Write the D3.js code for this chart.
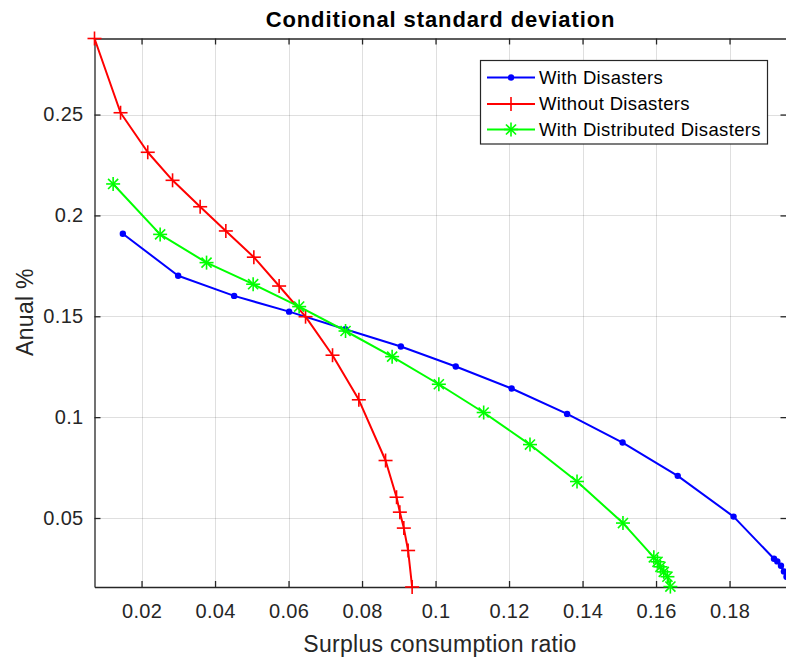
<!DOCTYPE html>
<html>
<head>
<meta charset="utf-8">
<script src="https://cdn.jsdelivr.net/npm/d3@7"></script>
<style>
  html, body { margin: 0; padding: 0; background: #fff; }
  svg { display: block; font-family: "Liberation Sans", Arial, Helvetica, sans-serif; }
</style>
</head>
<body>
<svg id="chart" width="786" height="662"></svg>
<script>
// Surplus consumption ratio (x) vs conditional standard deviation (y)
const withDisastersX = [0.01491, 0.02996, 0.04520, 0.06016, 0.07546, 0.09056, 0.1055, 0.1207, 0.1358, 0.1509, 0.1659, 0.1811, 0.1921, 0.1930, 0.1940, 0.1948, 0.1955];
const withDisastersY = [0.1909, 0.1701, 0.1601, 0.1523, 0.1436, 0.1350, 0.1251, 0.1142, 0.1016, 0.0874, 0.0709, 0.0507, 0.0298, 0.0285, 0.0263, 0.0235, 0.0209];

const withoutDisastersX = [0.0072, 0.01429, 0.02169, 0.02844, 0.03595, 0.04294, 0.05056, 0.05744, 0.06463, 0.07197, 0.07913, 0.08640, 0.08939, 0.09029, 0.09137, 0.09254, 0.09363];
const withoutDisastersY = [0.2877, 0.2509, 0.2313, 0.2174, 0.2043, 0.1923, 0.1793, 0.1650, 0.1498, 0.1307, 0.1086, 0.0785, 0.0603, 0.0529, 0.0450, 0.0339, 0.0158];

const distributedX = [0.01227, 0.02506, 0.03769, 0.05037, 0.06289, 0.07551, 0.08819, 0.1009, 0.1131, 0.1257, 0.1385, 0.1510, 0.1594, 0.1604, 0.1612, 0.1621, 0.1631, 0.1639];
const distributedY = [0.2156, 0.1906, 0.1766, 0.1659, 0.1548, 0.1427, 0.1300, 0.1163, 0.1023, 0.0864, 0.0681, 0.0475, 0.0305, 0.0283, 0.0258, 0.0233, 0.0209, 0.0160];

const seriesNames = ["With Disasters", "Without Disasters", "With Distributed Disasters"];
const xTicks = [0.02, 0.04, 0.06, 0.08, 0.1, 0.12, 0.14, 0.16, 0.18];
const yTicks = [0.05, 0.1, 0.15, 0.2, 0.25];

const titleText = "Conditional standard deviation";
const xLabelText = "Surplus consumption ratio";
const yLabelText = "Anual %";

const series = [
  { name: seriesNames[0], xs: withDisastersX, ys: withDisastersY, color: "#0000ff", marker: "dot" },
  { name: seriesNames[1], xs: withoutDisastersX, ys: withoutDisastersY, color: "#ff0000", marker: "plus" },
  { name: seriesNames[2], xs: distributedX, ys: distributedY, color: "#00ff00", marker: "star" }
].map(s => ({ ...s, pts: s.xs.map((x, i) => [x, s.ys[i]]) }));

const svg = d3.select("#chart");
const L = 94.5, R = 786.5, T = 38.5, B = 587;
const axisColor = "#262626";

// tight limits, taken from the data itself
const allX = series.flatMap(s => s.xs), allY = series.flatMap(s => s.ys);
const x = d3.scaleLinear().domain(d3.extent(allX)).range([L, R]);
const y = d3.scaleLinear().domain(d3.extent(allY)).range([B, T]);

// background
svg.append("rect").attr("x", L).attr("y", T).attr("width", R - L).attr("height", B - T).attr("fill", "#fff");

// grid
const grid = svg.append("g").attr("stroke", axisColor).attr("stroke-opacity", 0.15).attr("stroke-width", 1);
grid.selectAll("line.gx").data(xTicks).join("line")
  .attr("x1", d => Math.round(x(d)) + 0.5).attr("x2", d => Math.round(x(d)) + 0.5)
  .attr("y1", T).attr("y2", B);
grid.selectAll("line.gy").data(yTicks).join("line")
  .attr("y1", d => Math.round(y(d)) + 0.5).attr("y2", d => Math.round(y(d)) + 0.5)
  .attr("x1", L).attr("x2", R);

// axes
const fmt = d => String(+d.toFixed(4));
const styleAxis = g => {
  g.select(".domain").attr("stroke", axisColor).attr("stroke-width", 1.3);
  g.selectAll(".tick line").attr("stroke", axisColor).attr("stroke-width", 1.3);
  g.selectAll(".tick text").attr("fill", axisColor).attr("font-size", 20).attr("letter-spacing", 0.3)
    .attr("font-family", "'Liberation Sans', Arial, sans-serif");
};
svg.append("g").attr("transform", `translate(0,${B})`)
  .call(d3.axisBottom(x).tickValues(xTicks).tickFormat(fmt).tickSizeInner(-6).tickSizeOuter(0).tickPadding(17))
  .call(styleAxis);
svg.append("g").attr("transform", `translate(0,${T})`)
  .call(d3.axisTop(x).tickValues(xTicks).tickFormat("").tickSizeInner(-6).tickSizeOuter(0))
  .call(styleAxis);
svg.append("g").attr("transform", `translate(${L},0)`)
  .call(d3.axisLeft(y).tickValues(yTicks).tickFormat(fmt).tickSizeInner(-6).tickSizeOuter(0).tickPadding(11))
  .call(styleAxis);
svg.append("g").attr("transform", `translate(${R},0)`)
  .call(d3.axisRight(y).tickValues(yTicks).tickFormat("").tickSizeInner(-6).tickSizeOuter(0))
  .call(styleAxis);

// markers
function drawMarker(g, kind, color, size) {
  const h = size / 2;
  if (kind === "dot") {
    g.append("circle").attr("r", 3.2).attr("fill", color);
  } else {
    g.append("line").attr("x1", -h).attr("x2", h).attr("y1", 0).attr("y2", 0);
    g.append("line").attr("x1", 0).attr("x2", 0).attr("y1", -h).attr("y2", h);
    if (kind === "star") {
      const d = h * 0.72;
      g.append("line").attr("x1", -d).attr("x2", d).attr("y1", -d).attr("y2", d);
      g.append("line").attr("x1", -d).attr("x2", d).attr("y1", d).attr("y2", -d);
    }
    g.selectAll("line").attr("stroke", color).attr("stroke-width", 1.6);
  }
}

const line = d3.line().x(d => x(d[0])).y(d => y(d[1]));
series.forEach(s => {
  const g = svg.append("g");
  g.append("path").attr("d", line(s.pts)).attr("fill", "none")
    .attr("stroke", s.color).attr("stroke-width", 2).attr("stroke-linejoin", "round");
  g.selectAll("g.m").data(s.pts).join("g")
    .attr("transform", d => `translate(${x(d[0])},${y(d[1])})`)
    .each(function () { drawMarker(d3.select(this), s.marker, s.color, 14); });
});

// title and axis labels
svg.append("text").attr("x", (L + R) / 2).attr("y", 26.5).attr("text-anchor", "middle")
  .attr("font-size", 22).attr("font-weight", "bold").attr("fill", "#000").attr("letter-spacing", 0.9)
  .text(titleText);
svg.append("text").attr("x", 440).attr("y", 652).attr("text-anchor", "middle")
  .attr("font-size", 23).attr("fill", axisColor).attr("letter-spacing", 0.3).text(xLabelText);
svg.append("text").attr("transform", "translate(32.5,312) rotate(-90)").attr("text-anchor", "middle")
  .attr("font-size", 23).attr("fill", axisColor).attr("letter-spacing", 0.3).text(yLabelText);

// legend
const lg = svg.append("g");
lg.append("rect").attr("x", 480.5).attr("y", 60.5).attr("width", 287).attr("height", 83.5)
  .attr("fill", "#fff").attr("stroke", axisColor).attr("stroke-width", 1.2);
const rowY = [77.5, 104, 129.5];
series.forEach((s, i) => {
  const row = lg.append("g").attr("transform", `translate(0,${rowY[i]})`);
  row.append("line").attr("x1", 487).attr("x2", 535).attr("y1", 0).attr("y2", 0)
    .attr("stroke", s.color).attr("stroke-width", 2);
  drawMarker(row.append("g").attr("transform", "translate(511,0)"), s.marker, s.color, 14);
  row.append("text").attr("x", 539).attr("y", 0).attr("dy", "0.35em")
    .attr("font-size", 18.5).attr("letter-spacing", 0.35).attr("fill", "#000").text(s.name);
});
</script>
</body>
</html>
